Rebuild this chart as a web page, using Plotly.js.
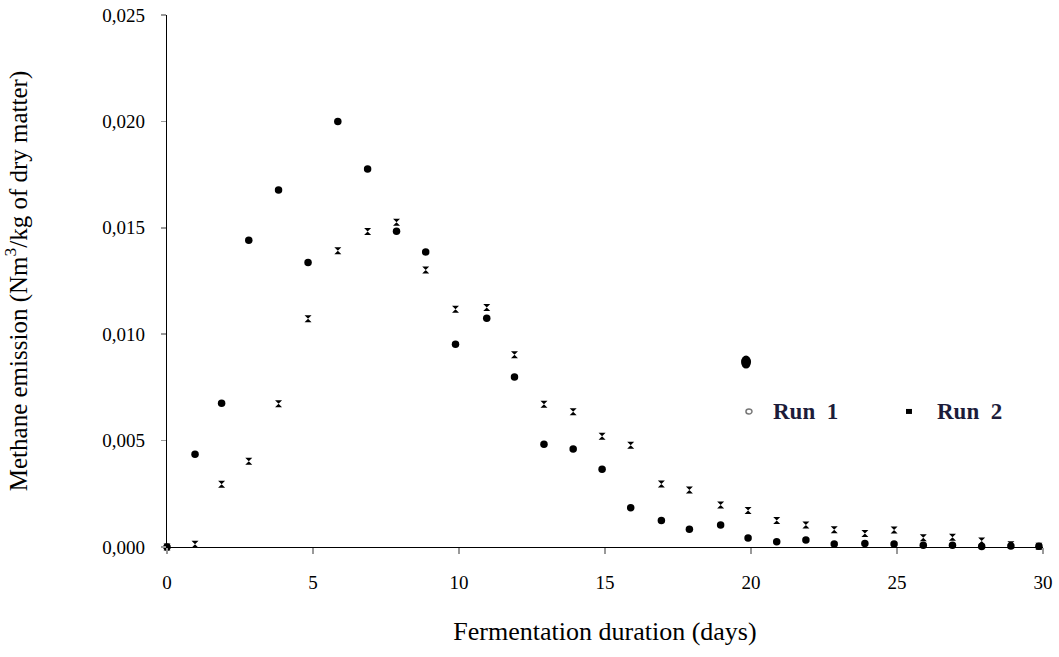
<!DOCTYPE html>
<html>
<head>
<meta charset="utf-8">
<script src="https://cdn.plot.ly/plotly-3.0.1.min.js"></script>
<style>html,body{margin:0;padding:0;background:#fff;}#chart{width:1059px;height:657px;}</style>
</head>
<body>
<div id="chart"></div>
<script>
// Fermentation day positions (as plotted)
const days = [0, 0.96, 1.87, 2.8, 3.82, 4.83, 5.85, 6.87, 7.86, 8.86, 9.88, 10.95, 11.9, 12.91, 13.91, 14.9,
              15.88, 16.93, 17.89, 18.96, 19.9, 20.88, 21.88, 22.85, 23.9, 24.9, 25.9, 26.9, 27.9, 28.9, 29.86];
// Methane emission, Run 1 (circles)
const run1 = [0, 0.00436, 0.00676, 0.01442, 0.01678, 0.01337, 0.02, 0.01776, 0.01484, 0.01386, 0.00953, 0.01075,
              0.00799, 0.00483, 0.0046, 0.00365, 0.00185, 0.00124, 0.00083, 0.00103, 0.00042, 0.00025, 0.00033,
              0.00014, 0.00016, 0.00014, 0.00008, 0.00008, 0.00002, 0.00005, 0.00003];
// Methane emission, Run 2 (crosses)
const run2 = [0, 0.000125, 0.00295, 0.00403, 0.00673, 0.01073, 0.01392, 0.01483, 0.01526, 0.01302, 0.01117, 0.01125,
              0.00904, 0.00671, 0.00636, 0.0052, 0.00478, 0.00296, 0.00268, 0.00197, 0.00172, 0.00125, 0.00103,
              0.00081, 0.00064, 0.0008, 0.00044, 0.00046, 0.00028, 0.0001, 0.00003];
const xTicks = [0, 5, 10, 15, 20, 25, 30];
const yTicks = [0, 0.005, 0.010, 0.015, 0.020, 0.025];
const yTickText = ['0,000', '0,005', '0,010', '0,015', '0,020', '0,025'];

const font = 'Liberation Serif, Times New Roman, serif';
const traces = [
  {x: days, y: run2, mode: 'markers', type: 'scatter', name: 'Run 2',
   marker: {symbol: 'hourglass', size: 7, color: '#000', line: {width: 0}}, cliponaxis: false},
  {x: days, y: run1, mode: 'markers', type: 'scatter', name: 'Run 1',
   marker: {symbol: 'circle', size: 7.5, color: '#000'}, cliponaxis: false}
];
const yPerPx = 0.025 / 532;
const xPerPx = 30 / 876;
const layout = {
  width: 1059, height: 657,
  margin: {l: 167, r: 16, t: 15, b: 110},
  paper_bgcolor: '#fff', plot_bgcolor: '#fff',
  showlegend: false,
  font: {family: font, size: 19, color: '#000'},
  xaxis: {
    range: [0, 30], tickvals: xTicks, ticktext: xTicks.map(String),
    showgrid: false, zeroline: false, showline: true, linecolor: '#000', linewidth: 1.2,
    ticks: 'outside', ticklen: 6, tickcolor: '#999', tickwidth: 1.5, ticklabelstandoff: 12,
    tickfont: {family: font, size: 19},
    title: {text: 'Fermentation duration (days)', font: {family: font, size: 26}, standoff: 29}
  },
  yaxis: {
    range: [0, 0.025], tickvals: yTicks, ticktext: yTickText,
    showgrid: false, zeroline: false, showline: true, linecolor: '#000', linewidth: 1.2,
    ticks: 'outside', ticklen: 5, tickcolor: '#999', tickwidth: 1.5, ticklabelstandoff: 12,
    tickfont: {family: font, size: 19},
    title: {text: 'Methane emission (Nm<sup>3</sup>/kg of dry matter)', font: {family: font, size: 25}, standoff: 70}
  },
  shapes: [
    {type: 'circle', xref: 'x', yref: 'y', x0: 19.83 - 5*xPerPx, x1: 19.83 + 5*xPerPx,
     y0: 0.00869 - 6.5*yPerPx, y1: 0.00869 + 6.5*yPerPx, fillcolor: '#000', line: {width: 0}},
    {type: 'circle', xref: 'x', yref: 'y', x0: 19.93 - 3*xPerPx, x1: 19.93 + 3*xPerPx,
     y0: 0.00637 - 2.5*yPerPx, y1: 0.00637 + 2.5*yPerPx, fillcolor: '#fff', line: {color: '#777', width: 1.5}},
    {type: 'rect', xref: 'x', yref: 'y', x0: 25.41 - 3*xPerPx, x1: 25.41 + 3*xPerPx,
     y0: 0.00637 - 2.5*yPerPx, y1: 0.00637 + 2.5*yPerPx, fillcolor: '#000', line: {width: 0}}
  ],
  annotations: [
    {x: 20.7, y: 0.00637, xref: 'x', yref: 'y', xanchor: 'left', yanchor: 'middle', showarrow: false,
     text: '<b>Run  1</b>', font: {family: font, size: 23, color: '#1c1c3a'}},
    {x: 26.3, y: 0.00637, xref: 'x', yref: 'y', xanchor: 'left', yanchor: 'middle', showarrow: false,
     text: '<b>Run  2</b>', font: {family: font, size: 23, color: '#1c1c3a'}}
  ]
};
Plotly.newPlot('chart', traces, layout, {displayModeBar: false, staticPlot: true});
</script>
</body>
</html>
